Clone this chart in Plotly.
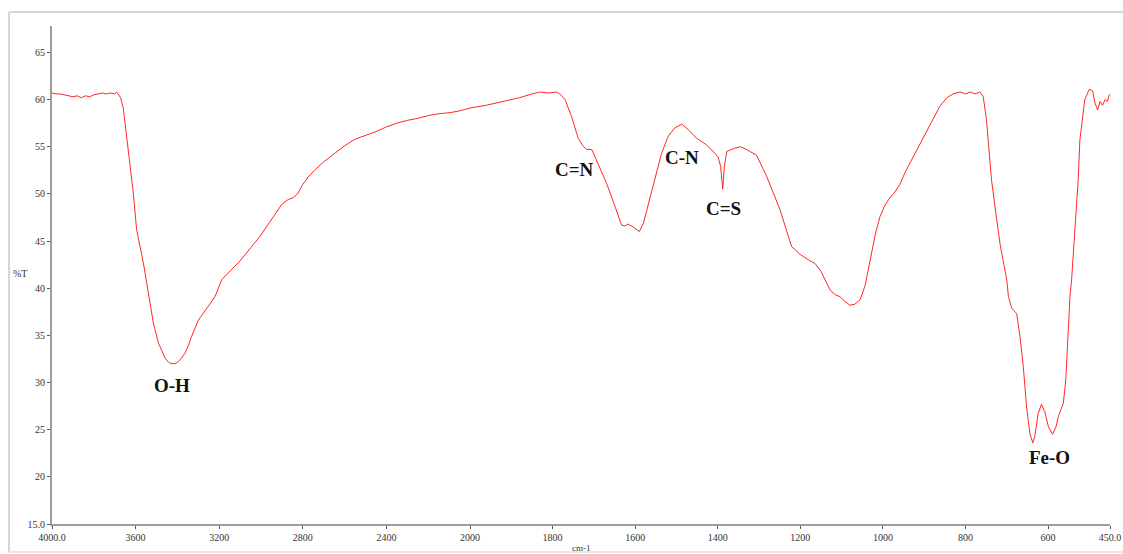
import numpy as np
import plotly.graph_objects as go

# Wavenumber (cm-1) and transmittance (%T)
wavenumber = [
    4000, 3980, 3960, 3940, 3920, 3900, 3880, 3860, 3840, 3820, 3800, 3780, 3760, 3740,
    3720, 3700, 3690, 3684, 3672, 3659, 3650, 3643, 3627, 3611, 3595, 3563, 3536, 3515,
    3491, 3459, 3440, 3427, 3410, 3396, 3380, 3364, 3348, 3332, 3300, 3260, 3220, 3188,
    3100, 3005, 2950, 2900, 2870, 2845, 2825, 2800, 2770, 2740, 2700, 2650, 2600, 2550,
    2500, 2450, 2400, 2350, 2300, 2250, 2200, 2150, 2100, 2050, 2000,
    1960, 1920, 1880, 1850, 1830, 1810, 1790, 1780, 1770, 1754, 1738, 1725, 1717, 1705,
    1689, 1669, 1649, 1633, 1625, 1617, 1605, 1590, 1580, 1568, 1552, 1536, 1520, 1504,
    1487, 1471, 1451, 1427, 1407, 1399, 1393, 1388, 1384, 1378, 1362, 1345, 1330, 1306,
    1281, 1249, 1221, 1201, 1180, 1164, 1150, 1140, 1128, 1115, 1104, 1092, 1080, 1068,
    1055, 1043, 1031, 1018, 1007, 995, 983, 971, 959, 946, 934, 910, 886, 862, 845, 830,
    813, 800, 789, 777, 765, 757, 749, 741, 737, 726, 716, 707, 700, 696, 688, 684, 676,
    668, 660, 652, 644, 637, 632, 624, 616, 608, 599, 589, 581, 575, 563, 557, 551, 547,
    543, 527, 523, 515, 511, 500, 492, 486, 480, 474, 468, 462, 456, 452, 450,
]
transmittance = [
    60.7, 60.6, 60.6, 60.5, 60.4, 60.3, 60.4, 60.2, 60.4, 60.3, 60.5, 60.6, 60.7, 60.6,
    60.7, 60.6, 60.8, 60.6, 60.2, 59.1, 57.5, 55.7, 52.9, 50.1, 46.2, 42.7, 39.1, 36.3,
    34.2, 32.6, 32.1, 32.0, 32.0, 32.2, 32.6, 33.1, 33.9, 34.9, 36.6, 37.9, 39.1, 40.9,
    42.9, 45.5, 47.3, 48.9, 49.4, 49.6, 50.0, 51.0, 51.9, 52.6, 53.4, 54.3, 55.1, 55.8,
    56.2, 56.6, 57.1, 57.5, 57.8, 58.0, 58.3, 58.5, 58.6, 58.8, 59.1,
    59.4, 59.8, 60.2, 60.6, 60.8, 60.7, 60.8, 60.5, 60.0, 58.2, 55.9, 55.0, 54.7, 54.7,
    53.1, 51.1, 48.7, 46.7, 46.6, 46.8, 46.5, 46.0, 46.9, 49.0, 51.8, 54.3, 56.1, 57.0,
    57.4, 56.8, 55.9, 55.2, 54.3, 53.9, 52.9, 50.5, 52.9, 54.5, 54.8, 55.0, 54.7, 54.1,
    51.8, 48.3, 44.4, 43.6, 43.0, 42.6, 41.8, 40.9, 39.8, 39.3, 39.1, 38.6, 38.2, 38.3,
    38.8, 40.3, 42.8, 45.8, 47.6, 48.8, 49.6, 50.2, 51.0, 52.3, 53.3, 55.3, 57.4, 59.3,
    60.2, 60.6, 60.8, 60.6, 60.8, 60.6, 60.8, 60.3, 57.8, 53.6, 51.5, 47.8, 44.6, 42.5,
    40.9, 39.1, 37.9, 37.7, 37.3, 34.9, 31.7, 27.4, 24.6, 23.6, 24.3, 26.7, 27.7, 26.9,
    25.3, 24.5, 25.3, 26.4, 27.8, 30.3, 35.6, 39.1, 40.9, 51.5, 55.7, 58.9, 60.0, 61.1,
    60.9, 59.6, 58.9, 59.8, 59.4, 60.0, 59.8, 60.5, 60.6,
]

# Axis ticks (scale changes at 2000 cm-1)
ticks_high = [4000, 3600, 3200, 2800, 2400]
ticks_high_text = ["4000.0", "3600", "3200", "2800", "2400"]
ticks_low = [2000, 1800, 1600, 1400, 1200, 1000, 800, 600, 450]
ticks_low_text = ["2000", "1800", "1600", "1400", "1200", "1000", "800", "600", "450.0"]
y_ticks = [15, 20, 25, 30, 35, 40, 45, 50, 55, 60, 65]
y_ticks_text = ["15.0", "20", "25", "30", "35", "40", "45", "50", "55", "60", "65"]

# Band labels
band_labels = ["O-H", "C=N", "C-N", "C=S", "Fe-O"]
band_x = [3426, 1746, 1487, 1385, 596]
band_y = [29.7, 52.6, 53.9, 48.5, 22.0]

wn = np.array(wavenumber, dtype=float)
tt = np.array(transmittance, dtype=float)
hi = wn >= 2000
lo = wn <= 2000

line_style = dict(color="#ff2626", width=1)
fig = go.Figure()
fig.add_trace(go.Scatter(x=wn[hi], y=tt[hi], mode="lines", line=line_style,
                         xaxis="x", yaxis="y", showlegend=False, hoverinfo="x+y"))
fig.add_trace(go.Scatter(x=wn[lo], y=tt[lo], mode="lines", line=line_style,
                         xaxis="x2", yaxis="y", showlegend=False, hoverinfo="x+y"))

tick_font = dict(family="Liberation Serif", size=10, color="#333333")
axis_common = dict(showline=True, linecolor="#9c9c9c", linewidth=2, ticks="outside",
                   ticklen=3, tickcolor="#555555", tickwidth=1, showgrid=False,
                   zeroline=False, tickfont=tick_font, fixedrange=True, automargin=False)

split = 418 / 1058
annotations = []
for lab, bx, by in zip(band_labels, band_x, band_y):
    annotations.append(dict(text="<b>%s</b>" % lab, x=bx, y=by,
                            xref="x" if bx > 2000 else "x2", yref="y",
                            showarrow=False, xanchor="center", yanchor="middle",
                            font=dict(family="Liberation Serif", size=19, color="#111111")))
annotations.append(dict(text="%T", x=-0.0302, y=0.504, xref="paper", yref="paper",
                        showarrow=False, xanchor="center", yanchor="middle",
                        font=dict(family="Liberation Serif", size=10, color="#333333")))
annotations.append(dict(text="cm-1", x=0.5, y=-0.048, xref="paper", yref="paper",
                        showarrow=False, xanchor="center", yanchor="middle",
                        font=dict(family="Liberation Serif", size=9, color="#333333")))

frame = dict(color="#d6d6d6", width=2)
fig.update_layout(
    width=1123, height=554,
    margin=dict(l=52, r=13, t=26, b=30, autoexpand=False),
    paper_bgcolor="white", plot_bgcolor="white",
    xaxis=dict(domain=[0, split], range=[4000, 2000], anchor="y",
               tickvals=ticks_high, ticktext=ticks_high_text, **axis_common),
    xaxis2=dict(domain=[split, 1], range=[2000, 450], anchor="y",
                tickvals=ticks_low, ticktext=ticks_low_text, **axis_common),
    yaxis=dict(range=[15, 67.8], anchor="x", tickvals=y_ticks, ticktext=y_ticks_text,
               **axis_common),
    annotations=annotations,
    shapes=[
        dict(type="line", xref="paper", yref="paper", x0=-0.0406, x1=1.06,
             y0=1.028, y1=1.028, line=frame, layer="below"),
        dict(type="line", xref="paper", yref="paper", x0=-0.0406, x1=-0.0406,
             y0=-0.056, y1=1.028, line=frame, layer="below"),
        dict(type="line", xref="paper", yref="paper", x0=-0.0406, x1=1.06,
             y0=-0.056, y1=-0.056, line=dict(color="#e6e6e6", width=2), layer="below"),
    ],
)

fig.write_html("out.html")
